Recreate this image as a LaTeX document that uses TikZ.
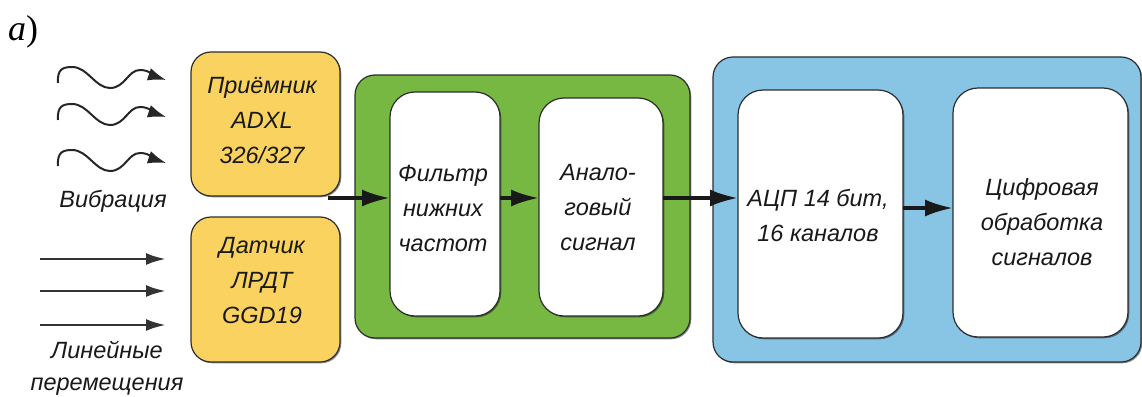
\documentclass[tikz,border=0pt]{standalone}
\usepackage{fontspec}
\setmainfont{Liberation Sans}
\newfontfamily\serifrm{Liberation Serif}
\usetikzlibrary{arrows.meta,shadows}
\definecolor{ylw}{RGB}{250,210,95}
\definecolor{grn}{RGB}{118,184,66}
\definecolor{blu}{RGB}{136,196,228}
\definecolor{edge}{RGB}{45,45,45}
\tikzset{
  mainarr/.tip={Latex[length=28pt,width=17pt]},
  wavearr/.tip={Latex[length=18pt,width=13pt]},
  linarr/.tip={Latex[length=20pt,width=12pt]}
}
\begin{document}
\begin{tikzpicture}[x=1pt,y=-1pt,
  box/.style={draw=edge, line width=1.2pt, rounded corners=20pt, inner sep=0pt, outer sep=0pt,
    drop shadow={shadow xshift=1.3pt,shadow yshift=-1.3pt,fill=black,opacity=0.45}},
  txt/.style={font=\fontsize{23.5}{35}\selectfont\itshape, align=center, inner sep=0pt, text=black!90},
  arr/.style={line width=3.4pt, draw=black!90, -mainarr},
  wave/.style={line width=2pt, draw=black!85, -wavearr},
  lin/.style={line width=2.8pt, draw=black!80, -linarr}]
\useasboundingbox (0,0) rectangle (1142,396);

% label a)
\node[anchor=base west, inner sep=0pt, font=\fontsize{36}{40}\serifrm] (lab) at (8,41) {\textit{а})};

% sensor boxes
\node[box, fill=ylw, minimum width=149pt, minimum height=144pt] (y1) at (265.5,124) {};
\node[box, fill=ylw, minimum width=149pt, minimum height=145pt] (y2) at (265.5,289.5) {};
\node[txt] (y1t) at (262,121) {Приёмник\\ADXL\\326/327};
\node[txt] (y2t) at (262,281) {Датчик\\ЛРДТ\\GGD19};

% green block
\node[box, fill=grn, minimum width=335pt, minimum height=263pt] (g) at (522.5,206.5) {};
\node[box, fill=white, rounded corners=25pt, minimum width=110pt, minimum height=224pt] (f) at (445,204) {};
\node[box, fill=white, rounded corners=25pt, minimum width=124pt, minimum height=218pt] (a) at (601,207) {};
\node[txt] (ft) at (443,208) {Фильтр\\нижних\\частот};
\node[txt] (at) at (598,208) {Анало-\\говый\\сигнал};

% blue block
\node[box, fill=blu, minimum width=428pt, minimum height=305pt] (b) at (927,209.5) {};
\node[box, fill=white, rounded corners=25pt, minimum width=165pt, minimum height=248pt] (adc) at (820.5,214) {};
\node[box, fill=white, rounded corners=25pt, minimum width=175pt, minimum height=249pt] (dig) at (1040.5,212.5) {};
\node[txt] (adct) at (818,215) {АЦП 14 бит,\\16 каналов};
\node[txt] (digt) at (1042,222) {Цифровая\\обработка\\сигналов};

% left labels
\node[txt, anchor=base] (vib) at (113,207) {Вибрация};
\node[txt, font=\fontsize{23.5}{32}\selectfont\itshape] (lin) at (107,368) {Линейные\\перемещения};

% wavy arrows
\foreach \Y/\n in {80/w1,117/w2,163/w3}{
  \coordinate (\n s) at (58,\Y+3);
  \coordinate (\n e) at (166,\Y);
  \draw[wave] (\n s) .. controls (57,\Y-11) and (63,\Y-13) .. (72,\Y-13)
     .. controls (88,\Y-13) and (95,\Y+8) .. (110,\Y+8)
     .. controls (125,\Y+8) and (128,\Y-10) .. (140,\Y-10)
     .. controls (150,\Y-10) and (154,\Y-4) .. (\n e);
}
% straight arrows
\foreach \Y/\n in {259/l1,291/l2,325/l3}{
  \coordinate (\n s) at (40,\Y);
  \coordinate (\n e) at (166,\Y);
  \draw[lin] (\n s) -- (\n e);
}

% signal path
\coordinate (in1) at (328,198);
\draw[arr] (in1) -- (in1 -| f.west);
\draw[arr] (in1 -| f.east) -- (in1 -| a.west);
\draw[arr] (in1 -| a.east) -- (in1 -| adc.west);
\draw[arr] ([yshift=6pt]adc.east) -- ([yshift=6pt]adc.east -| dig.west);
\end{tikzpicture}
\end{document}
